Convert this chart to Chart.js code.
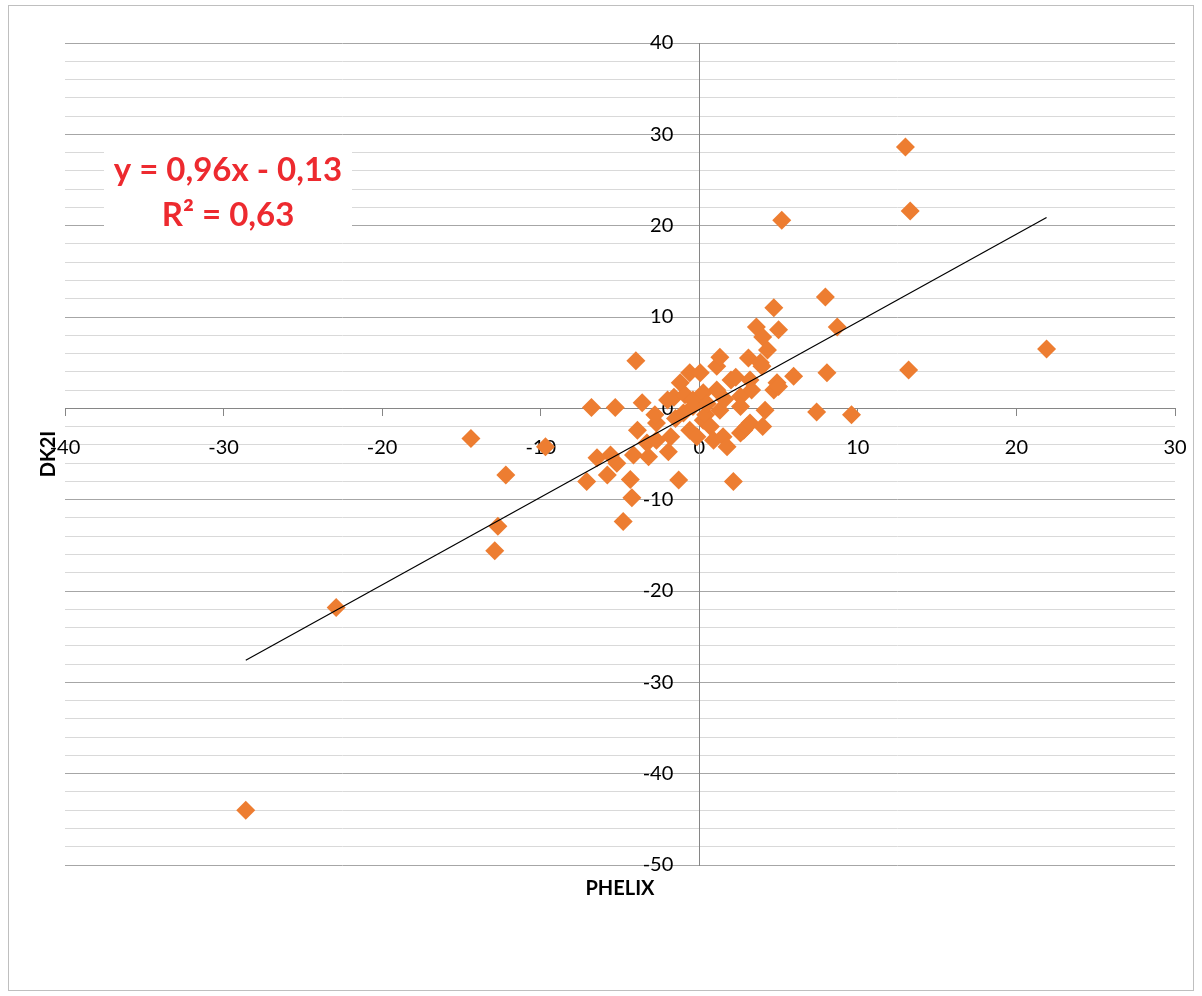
<!DOCTYPE html>
<html lang="en">
<head>
<meta charset="UTF-8">
<title>PHELIX vs DK2I</title>
<script src="https://cdn.jsdelivr.net/npm/chart.js"></script>
<style>
  html, body { margin: 0; padding: 0; background: #fff; }
  #wrap { position: relative; width: 1202px; height: 996px; }
  #frame { position: absolute; left: 8px; top: 5px; width: 1184px; height: 984px; border: 1px solid #bfbfbf; pointer-events: none; }
</style>
</head>
<body>
<div id="wrap">
  <canvas id="chart" width="1202" height="996"></canvas>
  <div id="frame"></div>
</div>
<script>
// values
const phelix = [
  -28.6, -22.9, -14.4, -9.7, -12.2, -12.7, -12.9,
  -6.8, -5.3, -4.0, -7.1, -6.45, -5.8, -5.6, -5.2, -4.8, -4.35, -4.25, -4.15, -3.9,
  -3.6, -3.3, -3.2, -2.7, -2.7, -2.8, -1.95, -1.8, -1.6, -1.3, -1.2, -1.5, -0.9, -0.6,
  -0.6, -0.4, -0.4, -0.15, 0.06, 0.25, 0.25, 0.4, 0.7, 0.9, 1.1, 1.1, 1.3, 1.3, 1.5,
  1.75, 2.0, 2.15, 2.3, 2.6, 2.6, 2.6, 2.8, 3.0, 3.1, 3.2, 3.2, 3.3, 3.6, 3.85, 3.95,
  4.0, 4.0, 4.15, 4.3, 4.7, 4.7, 4.9, 5.0, 5.0, 5.2, 5.95, 7.4, 7.95, 8.05, 8.7, 9.6,
  13.0, 13.3, 13.2, 21.9, -2.0, -1.0, 0.5, 1.6
];
const dk2i = [
  -44.0, -21.8, -3.3, -4.2, -7.3, -12.9, -15.6,
  0.1, 0.1, 5.2, -8.0, -5.4, -7.3, -5.1, -6.0, -12.4, -7.8, -9.8, -5.1, -2.4,
  0.6, -3.8, -5.3, -1.6, -3.5, -0.7, -4.75, -3.1, 1.2, -7.85, 2.8, -1.1, 1.5, 3.9,
  -2.4, 0.9, 0.2, -3.1, 3.9, 1.7, -1.3, -0.7, -2.0, -3.5, 4.6, 2.0, 5.6, -0.2, -3.1,
  -4.2, 3.1, -8.0, 3.4, 1.3, 0.2, -2.7, -2.4, -2.0, 5.5, 3.1, -1.6, 2.0, 8.9, 5.0, 4.6,
  7.8, -2.0, -0.2, 6.4, 11.0, 2.0, 2.8, 8.6, 2.4, 20.6, 3.5, -0.4, 12.2, 3.9, 8.9, -0.7,
  28.6, 21.6, 4.2, 6.5, 0.9, -0.5, 0.5, 1.0
];

// trend line as printed on the chart
const slope = 0.96;
const intercept = -0.13;
const equationLines = ['y = 0,96x - 0,13', 'R² = 0,63'];

// axis ranges and tick steps
const xRange = [-40, 30];
const yRange = [-50, 40];
const majorStep = 10;
const minorStep = 2;
// tick labels sit a bit away from the axis lines that cross at 0
const yLabelAt = -1.64;
const xLabelAt = -0.44;

const points = phelix.map((x, i) => ({ x: x, y: dk2i[i] }));
const xMin = Math.min(...phelix), xMax = Math.max(...phelix);
const trend = [xMin, xMax].map(x => ({ x: x, y: slope * x + intercept }));

const tickFont = { family: 'Lato', size: 20 };
const titleFont = { family: 'Lato', size: 20, weight: 'bold' };

// white box with the regression equation, top left
const equationBox = {
  id: 'equationBox',
  beforeDatasetsDraw(chart) {
    const ctx = chart.ctx;
    ctx.save();
    ctx.fillStyle = '#fff';
    ctx.fillRect(104, 146, 248, 88);
    ctx.fillStyle = '#ed2a2f';
    ctx.font = 'bold 33px Lato';
    ctx.textAlign = 'center';
    ctx.textBaseline = 'middle';
    ctx.fillText(equationLines[0], 228, 170);
    ctx.fillText(equationLines[1], 228, 215);
    ctx.restore();
  }
};

new Chart(document.getElementById('chart'), {
  type: 'scatter',
  data: {
    datasets: [{
      label: 'Trend',
      data: trend,
      showLine: true,
      borderColor: '#000',
      borderWidth: 1.2,
      pointRadius: 0,
      order: 0
    }, {
      label: 'DK2I',
      data: points,
      pointStyle: 'rectRot',
      pointRadius: 9.5,
      pointBorderWidth: 0,
      backgroundColor: '#ed7d31',
      borderColor: '#ed7d31',
      order: 1
    }]
  },
  options: {
    responsive: false,
    animation: false,
    layout: { padding: { left: 33, right: 27, top: 43, bottom: 95 } },
    plugins: { legend: { display: false }, tooltip: { enabled: false } },
    scales: {
      x: {
        type: 'linear', position: { y: 0 }, min: xRange[0], max: xRange[1],
        ticks: { stepSize: majorStep, autoSkip: false, display: false },
        grid: { drawOnChartArea: false, tickLength: 7, color: '#868686' },
        border: { color: '#868686' }
      },
      xl: {
        type: 'linear', position: { y: xLabelAt }, min: xRange[0], max: xRange[1],
        ticks: { stepSize: majorStep, autoSkip: false, maxRotation: 0, font: tickFont, color: '#000', padding: 15 },
        grid: { display: false }, border: { display: false }
      },
      y: {
        type: 'linear', position: { x: 0 }, min: yRange[0], max: yRange[1],
        ticks: { stepSize: majorStep, autoSkip: false, display: false },
        grid: { drawOnChartArea: false, tickLength: 7, color: '#868686' },
        border: { color: '#868686' }
      },
      yl: {
        type: 'linear', position: { x: yLabelAt }, min: yRange[0], max: yRange[1],
        ticks: { stepSize: majorStep, autoSkip: false, font: tickFont, color: '#000', padding: 0 },
        grid: { display: false }, border: { display: false }
      },
      xt: {
        type: 'linear', position: 'bottom', min: xRange[0], max: xRange[1],
        ticks: { display: false }, grid: { display: false }, border: { display: false },
        title: { display: true, text: 'PHELIX', font: titleFont, color: '#000', padding: { top: 4, bottom: 0 } }
      },
      yt: {
        type: 'linear', position: 'left', min: yRange[0], max: yRange[1],
        ticks: { display: false, stepSize: minorStep, maxTicksLimit: 100 },
        grid: {
          drawTicks: false, lineWidth: 1,
          color: c => (Math.round(c.tick.value) % majorStep === 0 ? '#a6a6a6' : '#d9d9d9')
        },
        border: { display: false },
        title: { display: true, text: 'DK2I', font: titleFont, color: '#000', padding: { top: 4, bottom: 4 } }
      }
    }
  },
  plugins: [equationBox]
});
</script>
</body>
</html>
